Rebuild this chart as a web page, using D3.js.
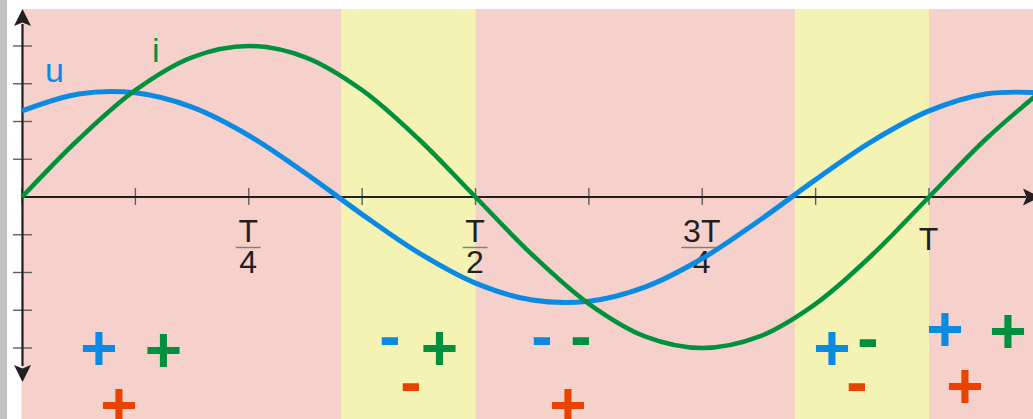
<!DOCTYPE html>
<html>
<head>
<meta charset="utf-8">
<script src="https://cdn.jsdelivr.net/npm/d3@7"></script>
<style>
  body { margin: 0; background: #fff; }
  svg { display: block; }
</style>
</head>
<body>
<div id="chart"></div>
<script>
// time in units of T, values in units of one y-tick
const tSamples = [0, 0.0625, 0.125, 0.1875, 0.25, 0.3125, 0.375, 0.4375, 0.5,
  0.5625, 0.625, 0.6875, 0.75, 0.8125, 0.875, 0.9375, 1, 1.0625, 1.125];
const uValues = [2.28, 2.73, 2.76, 2.38, 1.63, 0.63, -0.46, -1.48, -2.28,
  -2.73, -2.76, -2.38, -1.63, -0.63, 0.46, 1.48, 2.28, 2.73, 2.76];
const iValues = [0, 1.53, 2.83, 3.70, 4, 3.70, 2.83, 1.53, 0,
  -1.53, -2.83, -3.70, -4, -3.70, -2.83, -1.53, 0, 1.53, 2.83];

const xTickValues = [0, 0.125, 0.25, 0.375, 0.5, 0.625, 0.75, 0.875, 1];
const yTickValues = [-4, -3, -2, -1, 1, 2, 3, 4];
const xTickLabels = [
  { t: 0.25, num: "T", den: "4" },
  { t: 0.5, num: "T", den: "2" },
  { t: 0.75, num: "3T", den: "4" },
  { t: 1, num: "T", den: null }
];
// intervals where u and i have opposite sign (p < 0)
const negIntervals = [[0.352, 0.5], [0.852, 1.0]];
// signs of u, i, p in each interval
const signU = ["+", "-", "-", "+", "+"];
const signI = ["+", "+", "-", "-", "+"];
const signP = ["+", "-", "+", "-", "+"];

const width = 1033, height = 419;
const blue = "#0a8ae2", green = "#00913f", red = "#ec4200", ink = "#231f20";

const svg = d3.select("#chart").append("svg")
  .attr("width", width).attr("height", height);

const x = d3.scaleLinear().domain([0, 1]).range([22, 929]);
const y = d3.scaleLinear().domain([-4, 4]).range([348, 46]);

// backgrounds
svg.append("rect").attr("x", 0).attr("y", 0).attr("width", 7).attr("height", height).attr("fill", "#c2c2c2");
svg.append("rect").attr("x", 21.5).attr("y", 9).attr("width", width - 21.5).attr("height", height - 9).attr("fill", "#f6d1cc");
svg.selectAll("rect.neg").data(negIntervals).join("rect")
  .attr("class", "neg")
  .attr("x", d => x(d[0])).attr("y", 9)
  .attr("width", d => x(d[1]) - x(d[0])).attr("height", height - 9)
  .attr("fill", "#f5f3b3");

// y axis ticks
svg.selectAll("line.yt").data(yTickValues).join("line")
  .attr("class", "yt")
  .attr("x1", 13).attr("x2", 32)
  .attr("y1", d => y(d)).attr("y2", d => y(d))
  .attr("stroke", "#5f5f5f").attr("stroke-width", 1.4);

// x axis ticks
svg.selectAll("line.xt").data(xTickValues).join("line")
  .attr("class", "xt")
  .attr("x1", d => x(d)).attr("x2", d => x(d))
  .attr("y1", 188).attr("y2", 205)
  .attr("stroke", "#5f5f5f").attr("stroke-width", 1.4);

// axes
svg.append("line").attr("x1", 22.5).attr("x2", 22.5).attr("y1", 366).attr("y2", 24)
  .attr("stroke", ink).attr("stroke-width", 2.2);
svg.append("line").attr("x1", 22).attr("x2", 1026).attr("y1", y(0)).attr("y2", y(0))
  .attr("stroke", ink).attr("stroke-width", 2.2);

const arrow = "M0,0 L-8.5,17 L0,13.5 L8.5,17 Z";
svg.append("path").attr("d", arrow).attr("fill", ink)
  .attr("transform", "translate(22.5,9)");
svg.append("path").attr("d", arrow).attr("fill", ink)
  .attr("transform", "translate(22.5,382) rotate(180)");
svg.append("path").attr("d", arrow).attr("fill", ink)
  .attr("transform", `translate(1040,${y(0)}) rotate(90)`);

// tick labels (fractions)
const lab = svg.selectAll("g.xl").data(xTickLabels).join("g")
  .attr("class", "xl")
  .attr("transform", d => `translate(${x(d.t)},0)`)
  .style("font-family", "'Liberation Sans', Arial, sans-serif")
  .style("font-size", "32px").attr("fill", ink);

lab.append("text")
  .attr("text-anchor", "middle")
  .attr("y", d => d.den ? 242 : 250)
  .attr("x", -0.5)
  .text(d => d.num);
lab.filter(d => d.den).append("text")
  .attr("text-anchor", "middle")
  .attr("y", 273)
  .attr("x", -0.5)
  .text(d => d.den);
lab.filter(d => d.den).append("line")
  .attr("x1", d => d.num.length > 1 ? -21 : -13)
  .attr("x2", d => d.num.length > 1 ? 18 : 12)
  .attr("y1", 247.5).attr("y2", 247.5)
  .attr("stroke", "#808080").attr("stroke-width", 1.5);

// curves
const pts = arr => tSamples.map((t, k) => [t, arr[k]]);
const line = d3.line()
  .x(d => x(d[0])).y(d => y(d[1]))
  .curve(d3.curveCatmullRom.alpha(0.5));

svg.append("path").datum(pts(uValues))
  .attr("d", line).attr("fill", "none")
  .attr("stroke", blue).attr("stroke-width", 5);
svg.append("path").datum(pts(iValues))
  .attr("d", line).attr("fill", "none")
  .attr("stroke", green).attr("stroke-width", 4.5);

// curve names
const nameFont = "'Liberation Sans', Arial, sans-serif";
svg.append("text").attr("x", 45).attr("y", 82).attr("fill", blue)
  .style("font-family", nameFont).style("font-size", "34px").text("u");
svg.append("text").attr("x", 152).attr("y", 62).attr("fill", green)
  .style("font-family", nameFont).style("font-size", "34px").text("i");

// sign annotations, one column group per interval
const signLayout = [
  { u: [99, 348], i: [163.5, 349.5], p: [119, 404.5] },
  { u: [390, 342], i: [439.5, 348], p: [411, 388] },
  { u: [542, 342], i: [581, 342], p: [568, 404.5] },
  { u: [832, 348], i: [868, 344], p: [857, 388] },
  { u: [945, 329], i: [1008, 331], p: [965, 385.5] }
];
const signItems = [];
signLayout.forEach((pos, k) => {
  signItems.push({ s: signU[k], c: blue, p: pos.u });
  signItems.push({ s: signI[k], c: green, p: pos.i });
  signItems.push({ s: signP[k], c: red, p: pos.p });
});
svg.selectAll("text.sign").data(signItems).join("text")
  .attr("class", "sign")
  .attr("x", d => d.p[0])
  .attr("y", d => d.p[1] + (d.s === "+" ? 22 : 16))
  .attr("text-anchor", "middle")
  .attr("fill", d => d.c)
  .style("font-family", nameFont)
  .style("font-weight", "bold")
  .style("font-size", "64px")
  .text(d => d.s);
</script>
</body>
</html>
